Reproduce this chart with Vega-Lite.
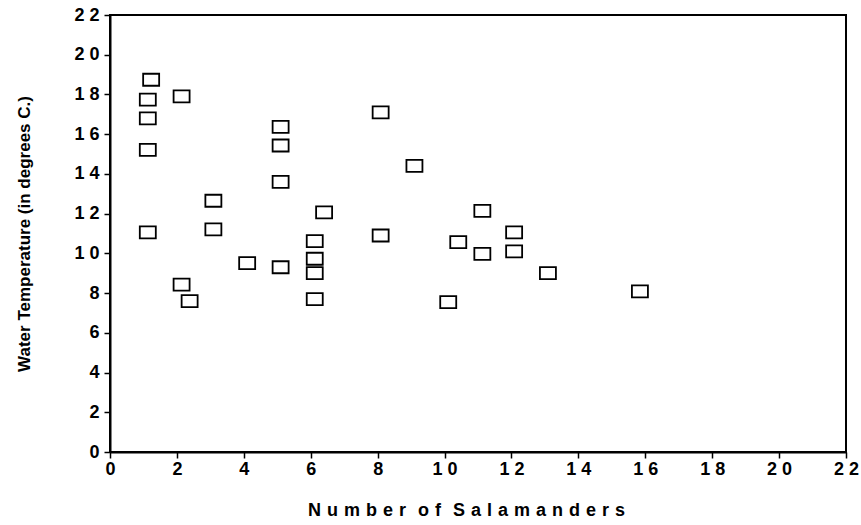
{
  "$schema": "https://vega.github.io/schema/vega-lite/v6.json",
  "autosize": "none",
  "width": 736,
  "height": 437,
  "padding": {"left": 110, "top": 15, "right": 15, "bottom": 73},
  "background": "white",
  "config": {
    "view": {"stroke": "black", "strokeWidth": 2}
  },
  "data": {
    "values": [
      {"n": 1.23, "t": 18.74},
      {"n": 1.13, "t": 17.74},
      {"n": 1.13, "t": 16.8},
      {"n": 1.13, "t": 15.21},
      {"n": 1.13, "t": 11.06},
      {"n": 2.14, "t": 17.9},
      {"n": 2.14, "t": 8.43},
      {"n": 2.38, "t": 7.6},
      {"n": 3.09, "t": 12.65},
      {"n": 3.09, "t": 11.21},
      {"n": 4.1, "t": 9.51},
      {"n": 5.1, "t": 16.37},
      {"n": 5.1, "t": 15.43},
      {"n": 5.1, "t": 13.6},
      {"n": 5.1, "t": 9.3},
      {"n": 6.12, "t": 10.62},
      {"n": 6.12, "t": 9.73},
      {"n": 6.12, "t": 9.01},
      {"n": 6.12, "t": 7.7},
      {"n": 6.4, "t": 12.06},
      {"n": 8.09, "t": 17.1},
      {"n": 8.09, "t": 10.9},
      {"n": 9.1, "t": 14.4},
      {"n": 10.11, "t": 7.55},
      {"n": 10.41, "t": 10.57},
      {"n": 11.13, "t": 12.14},
      {"n": 11.13, "t": 9.97},
      {"n": 12.08, "t": 11.06},
      {"n": 12.08, "t": 10.1},
      {"n": 13.09, "t": 9.01},
      {"n": 15.84, "t": 8.09}
    ]
  },
  "mark": {
    "type": "point",
    "shape": "M-1,-0.75H1V0.75H-1Z",
    "size": 256,
    "filled": false,
    "stroke": "black",
    "strokeWidth": 1.8,
    "opacity": 1
  },
  "encoding": {
    "x": {
      "field": "n",
      "type": "quantitative",
      "scale": {"domain": [0, 22], "nice": false, "zero": true},
      "axis": {
        "title": "N\u2004u\u2004m\u2004b\u2004e\u2004r\u2004\u2004o\u2004f\u2004\u2004S\u2004a\u2004l\u2004a\u2004m\u2004a\u2004n\u2004d\u2004e\u2004r\u2004s",
        "values": [0, 2, 4, 6, 8, 10, 12, 14, 16, 18, 20, 22],
        "labelExpr": "length(datum.label) > 1 ? substring(datum.label, 0, 1) + ' ' + substring(datum.label, 1) : datum.label",
        "labelFont": "Liberation Sans",
        "titleFont": "Liberation Sans",
        "labelFontWeight": "bold",
        "titleFontWeight": "bold",
        "labelFontSize": 18,
        "titleFontSize": 18,
        "labelColor": "black",
        "titleColor": "black",
        "domainColor": "black",
        "tickColor": "black",
        "domainWidth": 2,
        "tickWidth": 1.5,
        "tickSize": 6,
        "grid": false,
        "labelPadding": 2,
        "titlePadding": 23,
        "titleX": 356,
        "labelFlush": false
      }
    },
    "y": {
      "field": "t",
      "type": "quantitative",
      "scale": {"domain": [0, 22], "nice": false, "zero": true},
      "axis": {
        "title": "Water Temperature (in degrees C.)",
        "values": [0, 2, 4, 6, 8, 10, 12, 14, 16, 18, 20, 22],
        "labelExpr": "length(datum.label) > 1 ? substring(datum.label, 0, 1) + ' ' + substring(datum.label, 1) : datum.label",
        "labelFont": "Liberation Sans",
        "titleFont": "Liberation Sans",
        "labelFontWeight": "bold",
        "titleFontWeight": "bold",
        "labelFontSize": 18,
        "titleFontSize": 17,
        "labelColor": "black",
        "titleColor": "black",
        "domainColor": "black",
        "tickColor": "black",
        "domainWidth": 2,
        "tickWidth": 1.5,
        "tickSize": 6,
        "grid": false,
        "labelPadding": 5,
        "titlePadding": 40,
        "labelFlush": false
      }
    }
  }
}
